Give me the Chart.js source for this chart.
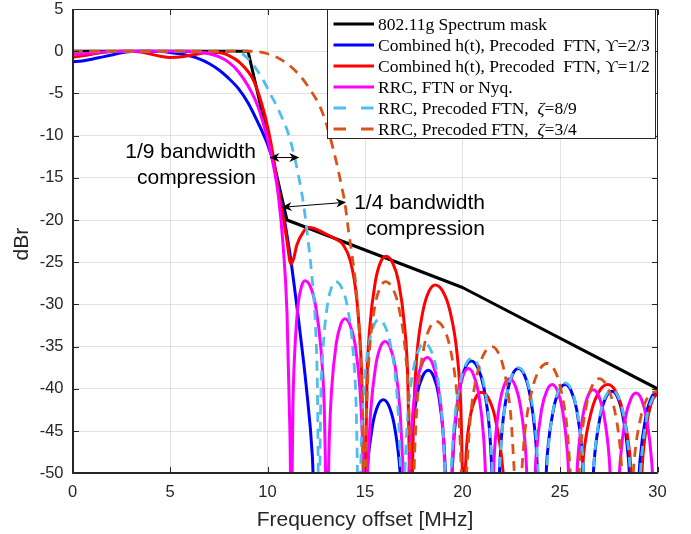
<!DOCTYPE html>
<html><head><meta charset="utf-8">
<script src="https://cdn.jsdelivr.net/npm/chart.js@4.4.1/dist/chart.umd.min.js"></script>
<style>html,body{margin:0;padding:0;background:#fff;overflow:hidden}</style>
</head><body>
<canvas id="c" width="691" height="534"></canvas>
<script>
// ---------------- data ----------------
const xTickValues = [0, 5, 10, 15, 20, 25, 30];
const yTickValues = [5, 0, -5, -10, -15, -20, -25, -30, -35, -40, -45, -50];

const maskPts = [[0,0],[9,0],[11,-20],[20,-28],[30,-40]];

const bluePts = [
 [0,-1.25],[0.5,-1.15],[1,-0.95],[1.5,-0.7],[2,-0.45],[2.5,-0.2],[3,-0.05],[3.5,0],[4,0],[4.5,-0.05],[5,-0.15],[5.5,-0.3],[6,-0.55],[6.5,-0.9],[7,-1.45],[7.5,-2.2],[8,-3.2],[8.5,-4.4],[9,-6.1],[9.5,-8.4],[10,-11.0],[10.3,-13.2],[10.7,-17.8],[11.15,-24],[11.6,-32],[12.0,-40],[12.3,-48],[12.45,-56],
 [14.83,-56],[14.97,-55.5],[15.11,-49.6],[15.39,-44.3],[15.66,-42.0],[15.94,-41.3],[16.22,-42.0],[16.5,-44.3],[16.79,-49.6],[16.93,-55.5],[17.07,-56],
 [17.22,-52],[17.37,-46.1],[17.66,-40.8],[17.96,-38.5],[18.25,-37.8],[18.51,-38.5],[18.78,-40.8],[19.04,-46.1],[19.17,-52],[19.3,-56],
 [19.44,-50.9],[19.59,-45],[19.88,-39.7],[20.16,-37.4],[20.45,-36.7],[20.76,-37.4],[21.08,-39.7],[21.39,-45],[21.54,-50.9],[21.7,-56],
 [21.85,-51.8],[21.99,-45.9],[22.28,-40.6],[22.57,-38.3],[22.86,-37.6],[23.16,-38.3],[23.45,-40.6],[23.75,-45.9],[23.9,-51.8],[24.05,-56],
 [24.2,-53.7],[24.35,-47.8],[24.66,-42.5],[24.96,-40.2],[25.26,-39.5],[25.56,-40.2],[25.86,-42.5],[26.15,-47.8],[26.3,-53.7],[26.45,-56],
 [26.6,-54.5],[26.75,-48.6],[27.06,-43.3],[27.36,-41.0],[27.66,-40.3],[27.95,-41.0],[28.23,-43.3],[28.52,-48.6],[28.66,-54.5],[28.8,-56],
 [28.95,-54.5],[29.1,-48.6],[29.4,-43.3],[29.7,-41.0],[30,-40.3]
];

const redPts = [
 [0,-0.7],[0.5,-0.55],[1,-0.35],[1.5,-0.15],[2,-0.05],[2.5,0],[3,0],[3.5,-0.1],[4,-0.35],[4.5,-0.6],[5,-0.75],[5.5,-0.7],[6,-0.5],[6.5,-0.3],[7,-0.15],[7.5,-0.15],[8,-0.5],[8.6,-1.4],[9.27,-3.4],[9.7,-6.2],[10.04,-9.3],[10.3,-12.5],[10.45,-14.9],[10.73,-18.6],[10.98,-22.2],[11.2,-25.2],[11.35,-24.5],[11.5,-23.0],[11.84,-21.4],[12.1,-20.9],[12.4,-21.0],[12.78,-21.4],[13.2,-21.9],[13.55,-22.3],[13.9,-23.0],[14.23,-24.7],[14.5,-27.9],[14.66,-31.5],[14.85,-40],[14.97,-56],
 [15.11,-38.5],[15.25,-32.6],[15.53,-27.3],[15.8,-25.0],[16.08,-24.3],[16.4,-25.0],[16.72,-27.3],[17.03,-32.6],[17.19,-38.5],[17.35,-56],
 [17.51,-41.9],[17.66,-36.0],[17.98,-30.7],[18.29,-28.4],[18.6,-27.7],[18.98,-28.4],[19.35,-30.7],[19.73,-36.0],[19.91,-41.9],[20.08,-56],
 [20.16,-49],[20.35,-44],[20.6,-41.5],[20.95,-40.4],[21.3,-41.0],[21.65,-43.2],[22.0,-48.0],[22.2,-53],[22.35,-56],
 [25.8,-56],[26.01,-53.7],[26.21,-47.8],[26.63,-42.5],[27.04,-40.2],[27.45,-39.5],[27.83,-40.2],[28.2,-42.5],[28.58,-47.8],[28.76,-53.7],[28.95,-56],
 [29.1,-54],[29.25,-48],[29.5,-43.5],[29.75,-41.3],[30,-40.6]
];

const magentaPts = [
 [0,-0.35],[0.5,-0.3],[1,-0.2],[2,-0.05],[3,0],[4,0],[5,0],[6,0],[6.5,-0.1],[7,-0.3],[7.5,-0.65],[8,-1.3],[8.5,-2.4],[9,-4.1],[9.5,-6.5],[10,-10.4],[10.3,-13.5],[10.55,-17],[10.8,-23],[11.0,-31],[11.15,-45],[11.22,-56],
 [11.31,-41.4],[11.4,-35.5],[11.56,-30.2],[11.74,-27.9],[11.92,-27.2],[12.2,-27.9],[12.47,-30.2],[12.75,-35.5],[12.9,-41.4],[13.06,-56],
 [13.17,-45.9],[13.29,-40.0],[13.52,-34.7],[13.75,-32.4],[13.97,-31.7],[14.23,-32.4],[14.49,-34.7],[14.74,-40.0],[14.87,-45.9],[15.02,-56],
 [15.16,-48.6],[15.29,-42.7],[15.54,-37.4],[15.78,-35.1],[16.03,-34.4],[16.29,-35.1],[16.55,-37.4],[16.8,-42.7],[16.93,-48.6],[17.08,-56],
 [17.24,-50.5],[17.38,-44.6],[17.65,-39.3],[17.93,-37.0],[18.2,-36.3],[18.46,-37.0],[18.73,-39.3],[18.99,-44.6],[19.12,-50.5],[19.27,-56],
 [19.43,-51.8],[19.55,-45.9],[19.8,-40.6],[20.05,-38.3],[20.3,-37.6],[20.56,-38.3],[20.83,-40.6],[21.09,-45.9],[21.22,-51.8],[21.37,-56],
 [21.53,-53],[21.65,-47.1],[21.9,-41.8],[22.15,-39.5],[22.4,-38.8],[22.68,-39.5],[22.95,-41.8],[23.23,-47.1],[23.36,-53],[23.5,-56],
 [23.64,-53.7],[23.78,-47.8],[24.05,-42.5],[24.33,-40.2],[24.6,-39.5],[24.86,-40.2],[25.13,-42.5],[25.39,-47.8],[25.52,-53.7],[25.65,-56],
 [25.78,-54.3],[25.91,-48.4],[26.18,-43.1],[26.44,-40.8],[26.7,-40.1],[26.98,-40.8],[27.25,-43.1],[27.53,-48.4],[27.66,-54.3],[27.8,-56],
 [27.94,-54.7],[28.08,-48.8],[28.35,-43.5],[28.63,-41.2],[28.9,-40.5],[29.17,-41.2],[29.44,-43.5],[29.71,-48.8],[29.85,-54.7],[30,-56]
];

const cyanPts = [
 [0,0],[8,0],[8.3,-0.05],[8.6,-0.15],[9.0,-0.9],[9.45,-2.2],[9.8,-3.5],[10.13,-5.0],[10.45,-6.4],[10.73,-7.8],[11.0,-9.3],[11.2,-10.8],[11.46,-13.3],[11.84,-18.0],[12.05,-21.8],[12.27,-26.5],[12.45,-32],[12.56,-40],[12.64,-56],
 [12.73,-41.5],[12.84,-35.6],[13.06,-30.3],[13.28,-28.0],[13.5,-27.3],[13.8,-28.0],[14.1,-30.3],[14.39,-35.6],[14.54,-41.5],[14.69,-56],
 [14.82,-46],[14.94,-40.1],[15.2,-34.8],[15.45,-32.5],[15.7,-31.8],[16.01,-32.5],[16.31,-34.8],[16.62,-40.1],[16.77,-46],[16.92,-56],
 [17.06,-48.8],[17.2,-42.9],[17.49,-37.6],[17.77,-35.3],[18.05,-34.6],[18.35,-35.3],[18.65,-37.6],[18.94,-42.9],[19.09,-48.8],[19.24,-56],
 [19.39,-50.6],[19.55,-44.7],[19.86,-39.4],[20.17,-37.1],[20.47,-36.4],[20.78,-37.1],[21.09,-39.4],[21.4,-44.7],[21.56,-50.6],[21.71,-56],
 [21.85,-51.7],[22.0,-45.8],[22.29,-40.5],[22.57,-38.2],[22.86,-37.5],[23.17,-38.2],[23.47,-40.5],[23.78,-45.8],[23.93,-51.7],[24.08,-56],
 [24.23,-53.5],[24.38,-47.6],[24.67,-42.3],[24.97,-40.0],[25.26,-39.3],[25.56,-40.0],[25.85,-42.3],[26.15,-47.6],[26.29,-53.5],[26.44,-56],
 [26.59,-54.3],[26.75,-48.4],[27.05,-43.1],[27.36,-40.8],[27.66,-40.1],[27.96,-40.8],[28.26,-43.1],[28.56,-48.4],[28.71,-54.3],[28.86,-56],
 [29.01,-54.6],[29.16,-48.7],[29.45,-43.4],[29.75,-41.1],[30,-40.5]
];

const orangePts = [
 [0,0],[9,0],[9.5,-0.05],[10,-0.3],[10.5,-0.75],[11,-1.45],[11.5,-2.5],[11.84,-3.4],[12.2,-4.6],[12.7,-6.6],[13.0,-8.5],[13.2,-10.1],[13.55,-13.3],[13.8,-16.0],[13.97,-18.0],[14.15,-21.2],[14.32,-23.9],[14.57,-28.7],[14.75,-35],[14.88,-44],[14.96,-56],
 [15.1,-41.5],[15.23,-35.6],[15.5,-30.3],[15.78,-28.0],[16.05,-27.3],[16.39,-28.0],[16.73,-30.3],[17.07,-35.6],[17.24,-41.5],[17.41,-56],
 [17.57,-46.2],[17.72,-40.3],[18.03,-35.0],[18.34,-32.7],[18.65,-32.0],[19.0,-32.7],[19.35,-35.0],[19.7,-40.3],[19.88,-46.2],[20.05,-56],
 [20.23,-49.2],[20.41,-43.3],[20.78,-38.0],[21.14,-35.7],[21.5,-35.0],[21.83,-35.7],[22.15,-38.0],[22.48,-43.3],[22.64,-49.2],[22.8,-56],
 [22.99,-51.2],[23.19,-45.3],[23.58,-40.0],[23.96,-37.7],[24.35,-37.0],[24.7,-37.7],[25.04,-40.0],[25.39,-45.3],[25.56,-51.2],[25.73,-56],
 [25.89,-53],[26.05,-47.1],[26.37,-41.8],[26.68,-39.5],[27.0,-38.8],[27.36,-39.5],[27.73,-41.8],[28.09,-47.1],[28.27,-53],[28.45,-56],
 [28.63,-54.5],[28.8,-48.6],[29.15,-43.3],[29.5,-41.0],[29.8,-40.4],[30,-40.3]
];

// legend text pieces: [text, italic]
const legendLabels = [
  [['802.11g Spectrum mask', false]],
  [['Combined h(t), Precoded  FTN, ', false], ['\u03D2', false], ['=2/3', false]],
  [['Combined h(t), Precoded  FTN, ', false], ['\u03D2', false], ['=1/2', false]],
  [['RRC, FTN or Nyq.', false]],
  [['RRC, Precoded FTN,  ', false], ['\u03B6', true], ['=8/9', false]],
  [['RRC, Precoded FTN,  ', false], ['\u03B6', true], ['=3/4', false]]
];

// annotations (data coordinates)
const annotTexts = [
  {lines: ['1/9 bandwidth', 'compression'], x: 9.41, y: -12.65},
  {lines: ['1/4 bandwidth', 'compression'], x: 21.15, y: -18.7}
];
const annotArrows = [
  {x1: 10.1, y1: -12.6, x2: 11.63, y2: -12.6},
  {x1: 10.73, y1: -18.5, x2: 14.03, y2: -17.9}
];

// ---------------- styles ----------------
const seriesList = [
  {pts: maskPts,    color: '#000000', width: 3,   dash: [],      smooth: false},
  {pts: bluePts,    color: '#0000FF', width: 3,   dash: [],      smooth: true},
  {pts: redPts,     color: '#FF0000', width: 3,   dash: [],      smooth: true},
  {pts: magentaPts, color: '#FF00FF', width: 3,   dash: [],      smooth: true},
  {pts: cyanPts,    color: '#4DBEEE', width: 2.8, dash: [10, 7], smooth: true},
  {pts: orangePts,  color: '#D95319', width: 2.8, dash: [10, 7], smooth: true}
];

const datasets = seriesList.map((s, i) => ({
  label: legendLabels[i].map(p => p[0]).join(''),
  data: s.pts.map(p => ({x: p[0], y: p[1]})),
  borderColor: s.color,
  backgroundColor: s.color,
  borderWidth: s.width,
  borderDash: s.dash,
  borderCapStyle: 'butt',
  borderJoinStyle: 'round',
  pointRadius: 0,
  fill: false,
  tension: 0,
  cubicInterpolationMode: s.smooth ? 'monotone' : 'default',
  capBezierPoints: false,
  clip: 0,
  order: seriesList.length - i
}));

const AXC = '#262626';

function arrowHead(ctx, tx, ty, ang) {
  const L = 10, W = 4.5, N = 7;
  const c = Math.cos(ang), s = Math.sin(ang);
  ctx.beginPath();
  ctx.moveTo(tx, ty);
  ctx.lineTo(tx - L * c - W * s, ty - L * s + W * c);
  ctx.lineTo(tx - N * c, ty - N * s);
  ctx.lineTo(tx - L * c + W * s, ty - L * s - W * c);
  ctx.closePath();
  ctx.fill();
}

const decoPlugin = {
  id: 'deco',
  afterDraw(chart) {
    const {ctx, chartArea: a, scales} = chart;
    const xs = scales.x, ys = scales.y;
    const L = Math.round(a.left) + 0.5, R = Math.round(a.right) - 0.5;
    const T = Math.round(a.top) + 0.5, B = Math.round(a.bottom) - 0.5;
    ctx.save();
    // box
    ctx.strokeStyle = AXC; ctx.lineWidth = 1; ctx.setLineDash([]);
    ctx.beginPath();
    ctx.moveTo(L, B); ctx.lineTo(L, T); ctx.lineTo(R, T); ctx.lineTo(R, B); ctx.closePath();
    ctx.stroke();
    // inward ticks
    const tl = 5.5;
    ctx.beginPath();
    xTickValues.forEach(v => {
      const px = Math.round(xs.getPixelForValue(v)) + 0.5;
      ctx.moveTo(px, B); ctx.lineTo(px, B - tl);
      ctx.moveTo(px, T); ctx.lineTo(px, T + tl);
    });
    yTickValues.forEach(v => {
      const py = Math.round(ys.getPixelForValue(v)) + 0.5;
      ctx.moveTo(L, py); ctx.lineTo(L + tl, py);
      ctx.moveTo(R, py); ctx.lineTo(R - tl, py);
    });
    ctx.stroke();

    // axis titles
    ctx.fillStyle = AXC;
    ctx.font = "21px 'Liberation Sans', Arial, sans-serif";
    ctx.textAlign = 'center'; ctx.textBaseline = 'middle';
    ctx.fillText('Frequency offset [MHz]', (a.left + a.right) / 2, 520);
    ctx.save();
    ctx.translate(22, (a.top + a.bottom) / 2 + 3);
    ctx.rotate(-Math.PI / 2);
    ctx.fillText('dBr', 0, 0);
    ctx.restore();

    // annotations
    ctx.fillStyle = '#000'; ctx.strokeStyle = '#000';
    ctx.font = "21px 'Liberation Sans', Arial, sans-serif";
    ctx.textAlign = 'right'; ctx.textBaseline = 'alphabetic';
    annotTexts.forEach(t => {
      const px = xs.getPixelForValue(t.x), py = ys.getPixelForValue(t.y);
      t.lines.forEach((ln, i) => ctx.fillText(ln, px, py + i * 26));
    });
    annotArrows.forEach(ar => {
      const x1 = xs.getPixelForValue(ar.x1), y1 = ys.getPixelForValue(ar.y1);
      const x2 = xs.getPixelForValue(ar.x2), y2 = ys.getPixelForValue(ar.y2);
      const ang = Math.atan2(y2 - y1, x2 - x1);
      ctx.lineWidth = 1;
      ctx.beginPath(); ctx.moveTo(x1 + 5 * Math.cos(ang), y1 + 5 * Math.sin(ang));
      ctx.lineTo(x2 - 5 * Math.cos(ang), y2 - 5 * Math.sin(ang)); ctx.stroke();
      arrowHead(ctx, x2, y2, ang);
      arrowHead(ctx, x1, y1, ang + Math.PI);
    });

    // legend
    const lw = 328, lh = 129;
    const lx = Math.round(a.right - 2.5 - lw) + 0.5, ly = T;
    ctx.fillStyle = '#fff';
    ctx.fillRect(lx, ly, lw, lh);
    ctx.strokeStyle = AXC; ctx.lineWidth = 1;
    ctx.strokeRect(lx, ly, lw, lh);
    const fs = 17.5;
    ctx.textAlign = 'left'; ctx.textBaseline = 'alphabetic';
    legendLabels.forEach((parts, i) => {
      const s = seriesList[i];
      const cy = ly + 14.5 + 21 * i;
      ctx.strokeStyle = s.color; ctx.lineWidth = s.width;
      ctx.setLineDash(s.dash.length ? [12.5, 15] : []);
      ctx.beginPath(); ctx.moveTo(lx + 6, cy); ctx.lineTo(lx + 46.5, cy); ctx.stroke();
      ctx.setLineDash([]);
      let tx = lx + 50.5;
      ctx.fillStyle = '#000';
      parts.forEach(([txt, it]) => {
        ctx.font = (it ? 'italic ' : '') + fs + "px 'Liberation Serif', 'Times New Roman', 'DejaVu Serif', serif";
        ctx.fillText(txt, tx, cy + 5.8);
        tx += ctx.measureText(txt).width;
      });
    });
    ctx.restore();
  }
};

const tickFont = {family: "'Liberation Sans', Arial, sans-serif", size: 16.5, lineHeight: 1.1};

new Chart(document.getElementById('c'), {
  type: 'line',
  data: {datasets},
  options: {
    responsive: false,
    animation: false,
    events: [],
    devicePixelRatio: 1,
    layout: {padding: {top: 9, right: 33.5, left: 0, bottom: 0}},
    plugins: {legend: {display: false}, tooltip: {enabled: false}, title: {display: false}},
    scales: {
      x: {
        type: 'linear', min: 0, max: 30,
        afterBuildTicks: s => { s.ticks = xTickValues.map(v => ({value: v})); },
        ticks: {font: tickFont, color: AXC, padding: 10, maxRotation: 0, autoSkip: false},
        grid: {color: 'rgba(0,0,0,0.11)', drawTicks: false, lineWidth: 1},
        border: {display: true, color: AXC, width: 1, z: 1},
        afterFit: s => { s.height = 60.8; s.paddingLeft = 0; s.paddingRight = 0; }
      },
      y: {
        type: 'linear', min: -50, max: 5,
        afterBuildTicks: s => { s.ticks = yTickValues.map(v => ({value: v})); },
        ticks: {font: tickFont, color: AXC, padding: 9, autoSkip: false},
        grid: {color: 'rgba(0,0,0,0.11)', drawTicks: false, lineWidth: 1},
        border: {display: true, color: AXC, width: 1, z: 1},
        afterFit: s => { s.width = 72.5; s.paddingTop = 0; s.paddingBottom = 0; }
      }
    }
  },
  plugins: [decoPlugin]
});
</script>
</body></html>
